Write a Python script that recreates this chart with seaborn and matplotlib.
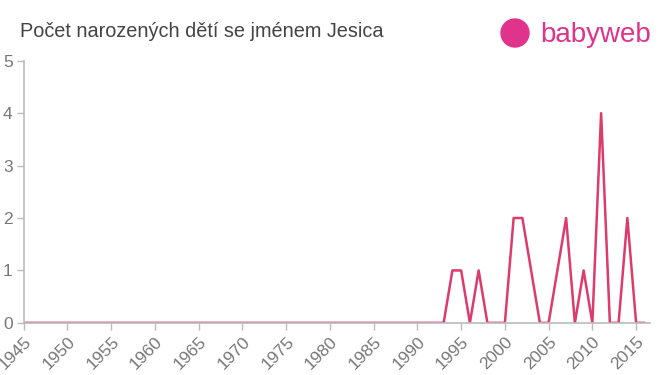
import numpy as np
import pandas as pd
import matplotlib
matplotlib.use("Agg")
import matplotlib.pyplot as plt
import seaborn as sns
from matplotlib.patches import Ellipse

# Data
years = list(range(1945, 2017))
counts_nonzero = {1994: 1, 1995: 1, 1997: 1, 2001: 2, 2002: 2, 2003: 1,
                  2006: 1, 2007: 2, 2009: 1, 2011: 4, 2014: 2}
counts = [counts_nonzero.get(y, 0) for y in years]
tick_years = list(range(1945, 2020, 5))

df = pd.DataFrame({"rok": years, "pocet": counts})

sns.set_style("white")
plt.rcParams['font.family'] = ['Liberation Sans', 'DejaVu Sans']

fig = plt.figure(figsize=(6.6, 3.75), dpi=100)
ax = fig.add_axes([0.036, 0.139, 0.949, 0.699])

sns.lineplot(data=df, x="rok", y="pocet", ax=ax, color="#dc3b6b", linewidth=1.8)

ax.set_xlim(1945, 2016.6)
ax.set_ylim(0, 5)
ax.set_xticks(tick_years)
ax.set_xticklabels([str(y) for y in tick_years], rotation=45, ha="right",
                   rotation_mode="anchor")
ax.set_yticks(range(0, 6))
ax.tick_params(axis="both", colors="#bbbbbb", labelcolor="#777777", labelsize=12.5,
               length=5, width=1, direction="out", bottom=True, left=True)
ax.tick_params(axis="x", pad=3)
ax.tick_params(axis="y", pad=3)
ax.set_xlabel("")
ax.set_ylabel("")
for s in ["top", "right"]:
    ax.spines[s].set_visible(False)
for s in ["left", "bottom"]:
    ax.spines[s].set_color("#bbbbbb")
    ax.spines[s].set_linewidth(1.2)

fig.text(0.030, 0.915, "Počet narozených dětí se jménem Jesica", fontsize=14.3,
         color="#444444", va="center", ha="left")

# logo
logo_color = "#e0338b"
fig.patches.append(Ellipse((515 / 660, 1 - 33 / 375), 28 / 660, 28 / 375,
                           transform=fig.transFigure, color=logo_color, zorder=5))
fig.text(540 / 660, 1 - 35 / 375, "babyweb", fontsize=20, color=logo_color,
         va="center", ha="left")

fig.savefig("out.png", dpi=100)
